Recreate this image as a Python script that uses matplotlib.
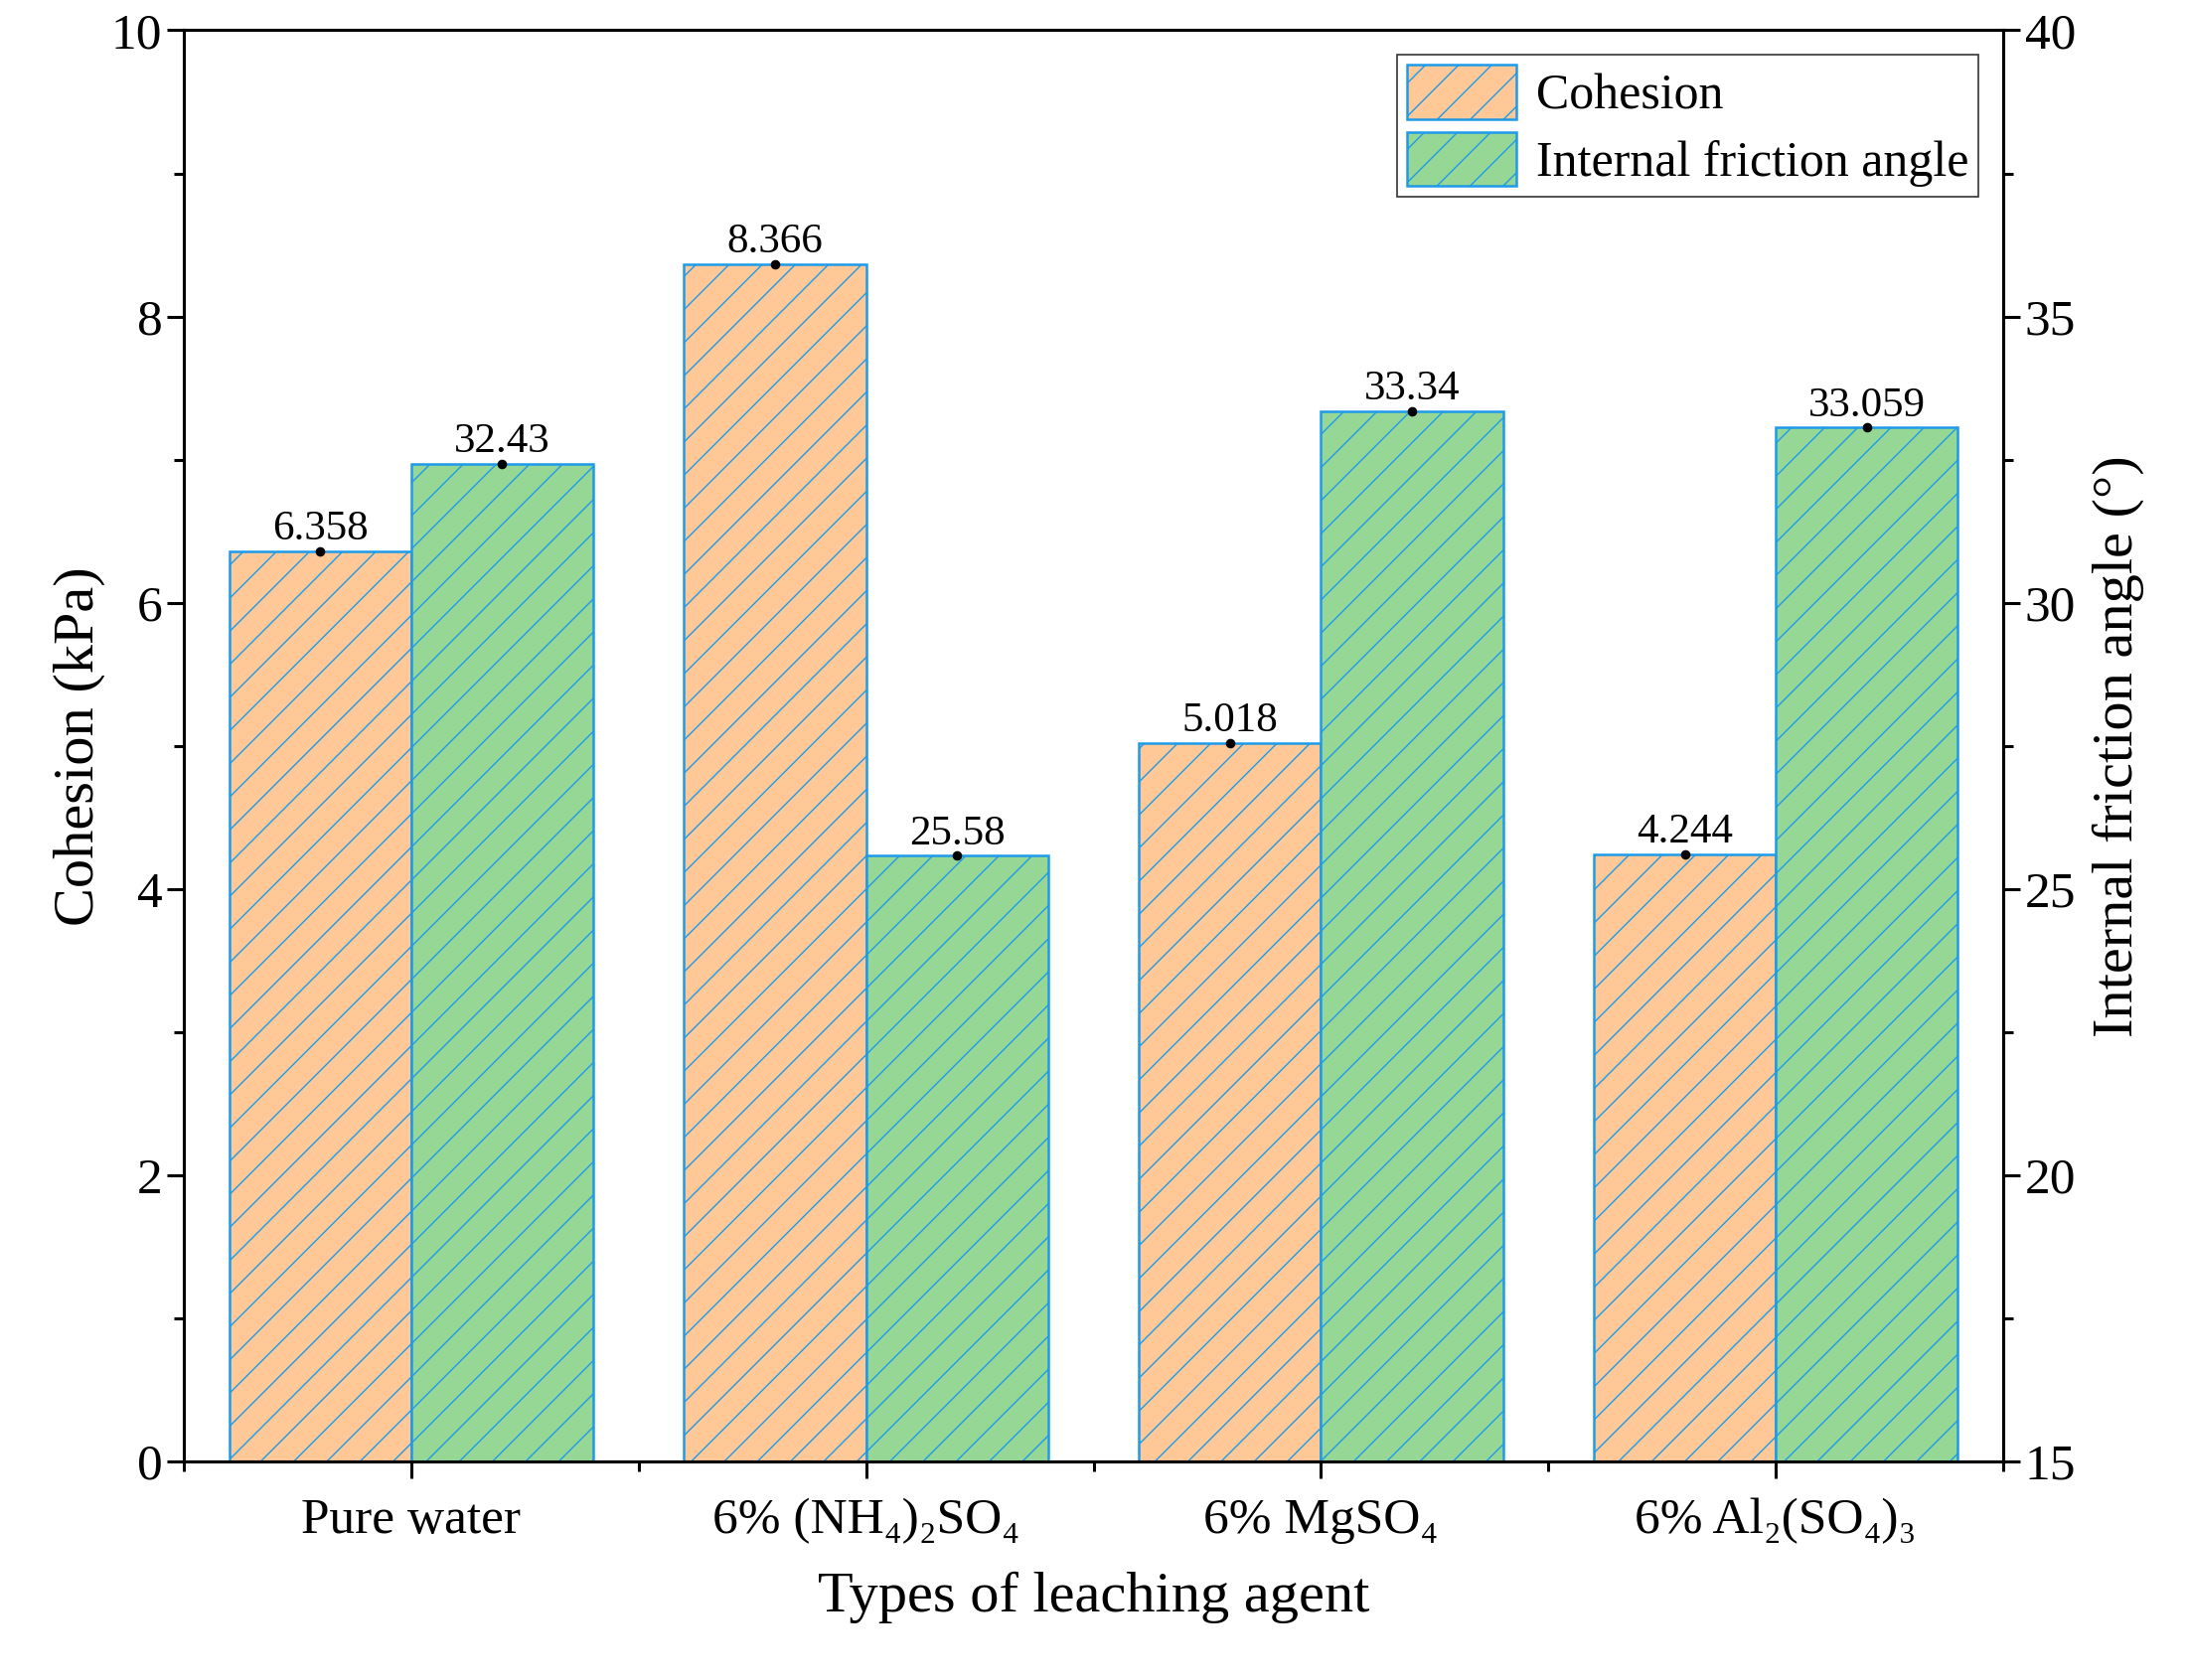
import matplotlib
matplotlib.use("Agg")
import matplotlib.pyplot as plt
import numpy as np
from matplotlib.ticker import MultipleLocator

categories = ["Pure water", "6% (NH₄)₂SO₄", "6% MgSO₄", "6% Al₂(SO₄)₃"]
cohesion = [6.358, 8.366, 5.018, 4.244]
friction = [32.43, 25.58, 33.34, 33.059]
coh_labels = ["6.358", "8.366", "5.018", "4.244"]
fric_labels = ["32.43", "25.58", "33.34", "33.059"]

plt.rcParams["font.family"] = "Liberation Serif"
plt.rcParams["hatch.color"] = "#1E9BE8"
plt.rcParams["hatch.linewidth"] = 1.0

fig = plt.figure(figsize=(22.01, 16.91), dpi=100)
ax = fig.add_axes([0.084, 0.130, 0.832, 0.852])
ax2 = ax.twinx()

x = np.arange(len(categories))
w = 0.4
edge = "#1E9BE8"
b1 = ax.bar(x - w/2, cohesion, w, color="#FFC896", edgecolor=edge, hatch="/", linewidth=1.8, label="Cohesion")
b2 = ax2.bar(x + w/2, friction, w, bottom=0, color="#96D796", edgecolor=edge, hatch="/", linewidth=1.8, label="Internal friction angle")
ax.scatter(x - w/2, cohesion, color="black", s=35, zorder=5)
ax2.scatter(x + w/2, friction, color="black", s=35, zorder=5)
for xi, v, t in zip(x - w/2, cohesion, coh_labels):
    ax.text(xi, v + 0.02, t, ha="center", va="bottom", fontsize=31)
for xi, v, t in zip(x + w/2, friction, fric_labels):
    ax2.text(xi, v + 0.05, t, ha="center", va="bottom", fontsize=31)

ax.set_xlim(-0.5, 3.5)
ax.set_ylim(0, 10)
ax2.set_ylim(15, 40)
ax.set_xticks(x)
ax.set_xticklabels(categories)
ax.xaxis.set_minor_locator(MultipleLocator(0.5))
ax.yaxis.set_major_locator(MultipleLocator(2))
ax.yaxis.set_minor_locator(MultipleLocator(1))
ax2.yaxis.set_major_locator(MultipleLocator(5))
ax2.yaxis.set_minor_locator(MultipleLocator(2.5))
for a in (ax, ax2):
    a.tick_params(which="major", length=12, width=2.2, labelsize=37)
    a.tick_params(which="minor", length=7, width=2.2)
    for s in a.spines.values():
        s.set_linewidth(2.2)
ax.tick_params(axis="x", pad=14)
ax.set_xlabel("Types of leaching agent", fontsize=42, labelpad=20)
ax.set_ylabel("Cohesion (kPa)", fontsize=42)
ax2.set_ylabel("Internal friction angle (°)", fontsize=42, labelpad=12)

leg = ax.legend([b1, b2], ["Cohesion", "Internal friction angle"], loc="upper right",
                fontsize=36, frameon=True, fancybox=False, edgecolor="black",
                handlelength=2.2, handleheight=1.3, handletextpad=0.4,
                labelspacing=0.25, borderpad=0.2, borderaxespad=0.5)
leg.get_frame().set_linewidth(1.2)

fig.savefig("out.png", dpi=100)
